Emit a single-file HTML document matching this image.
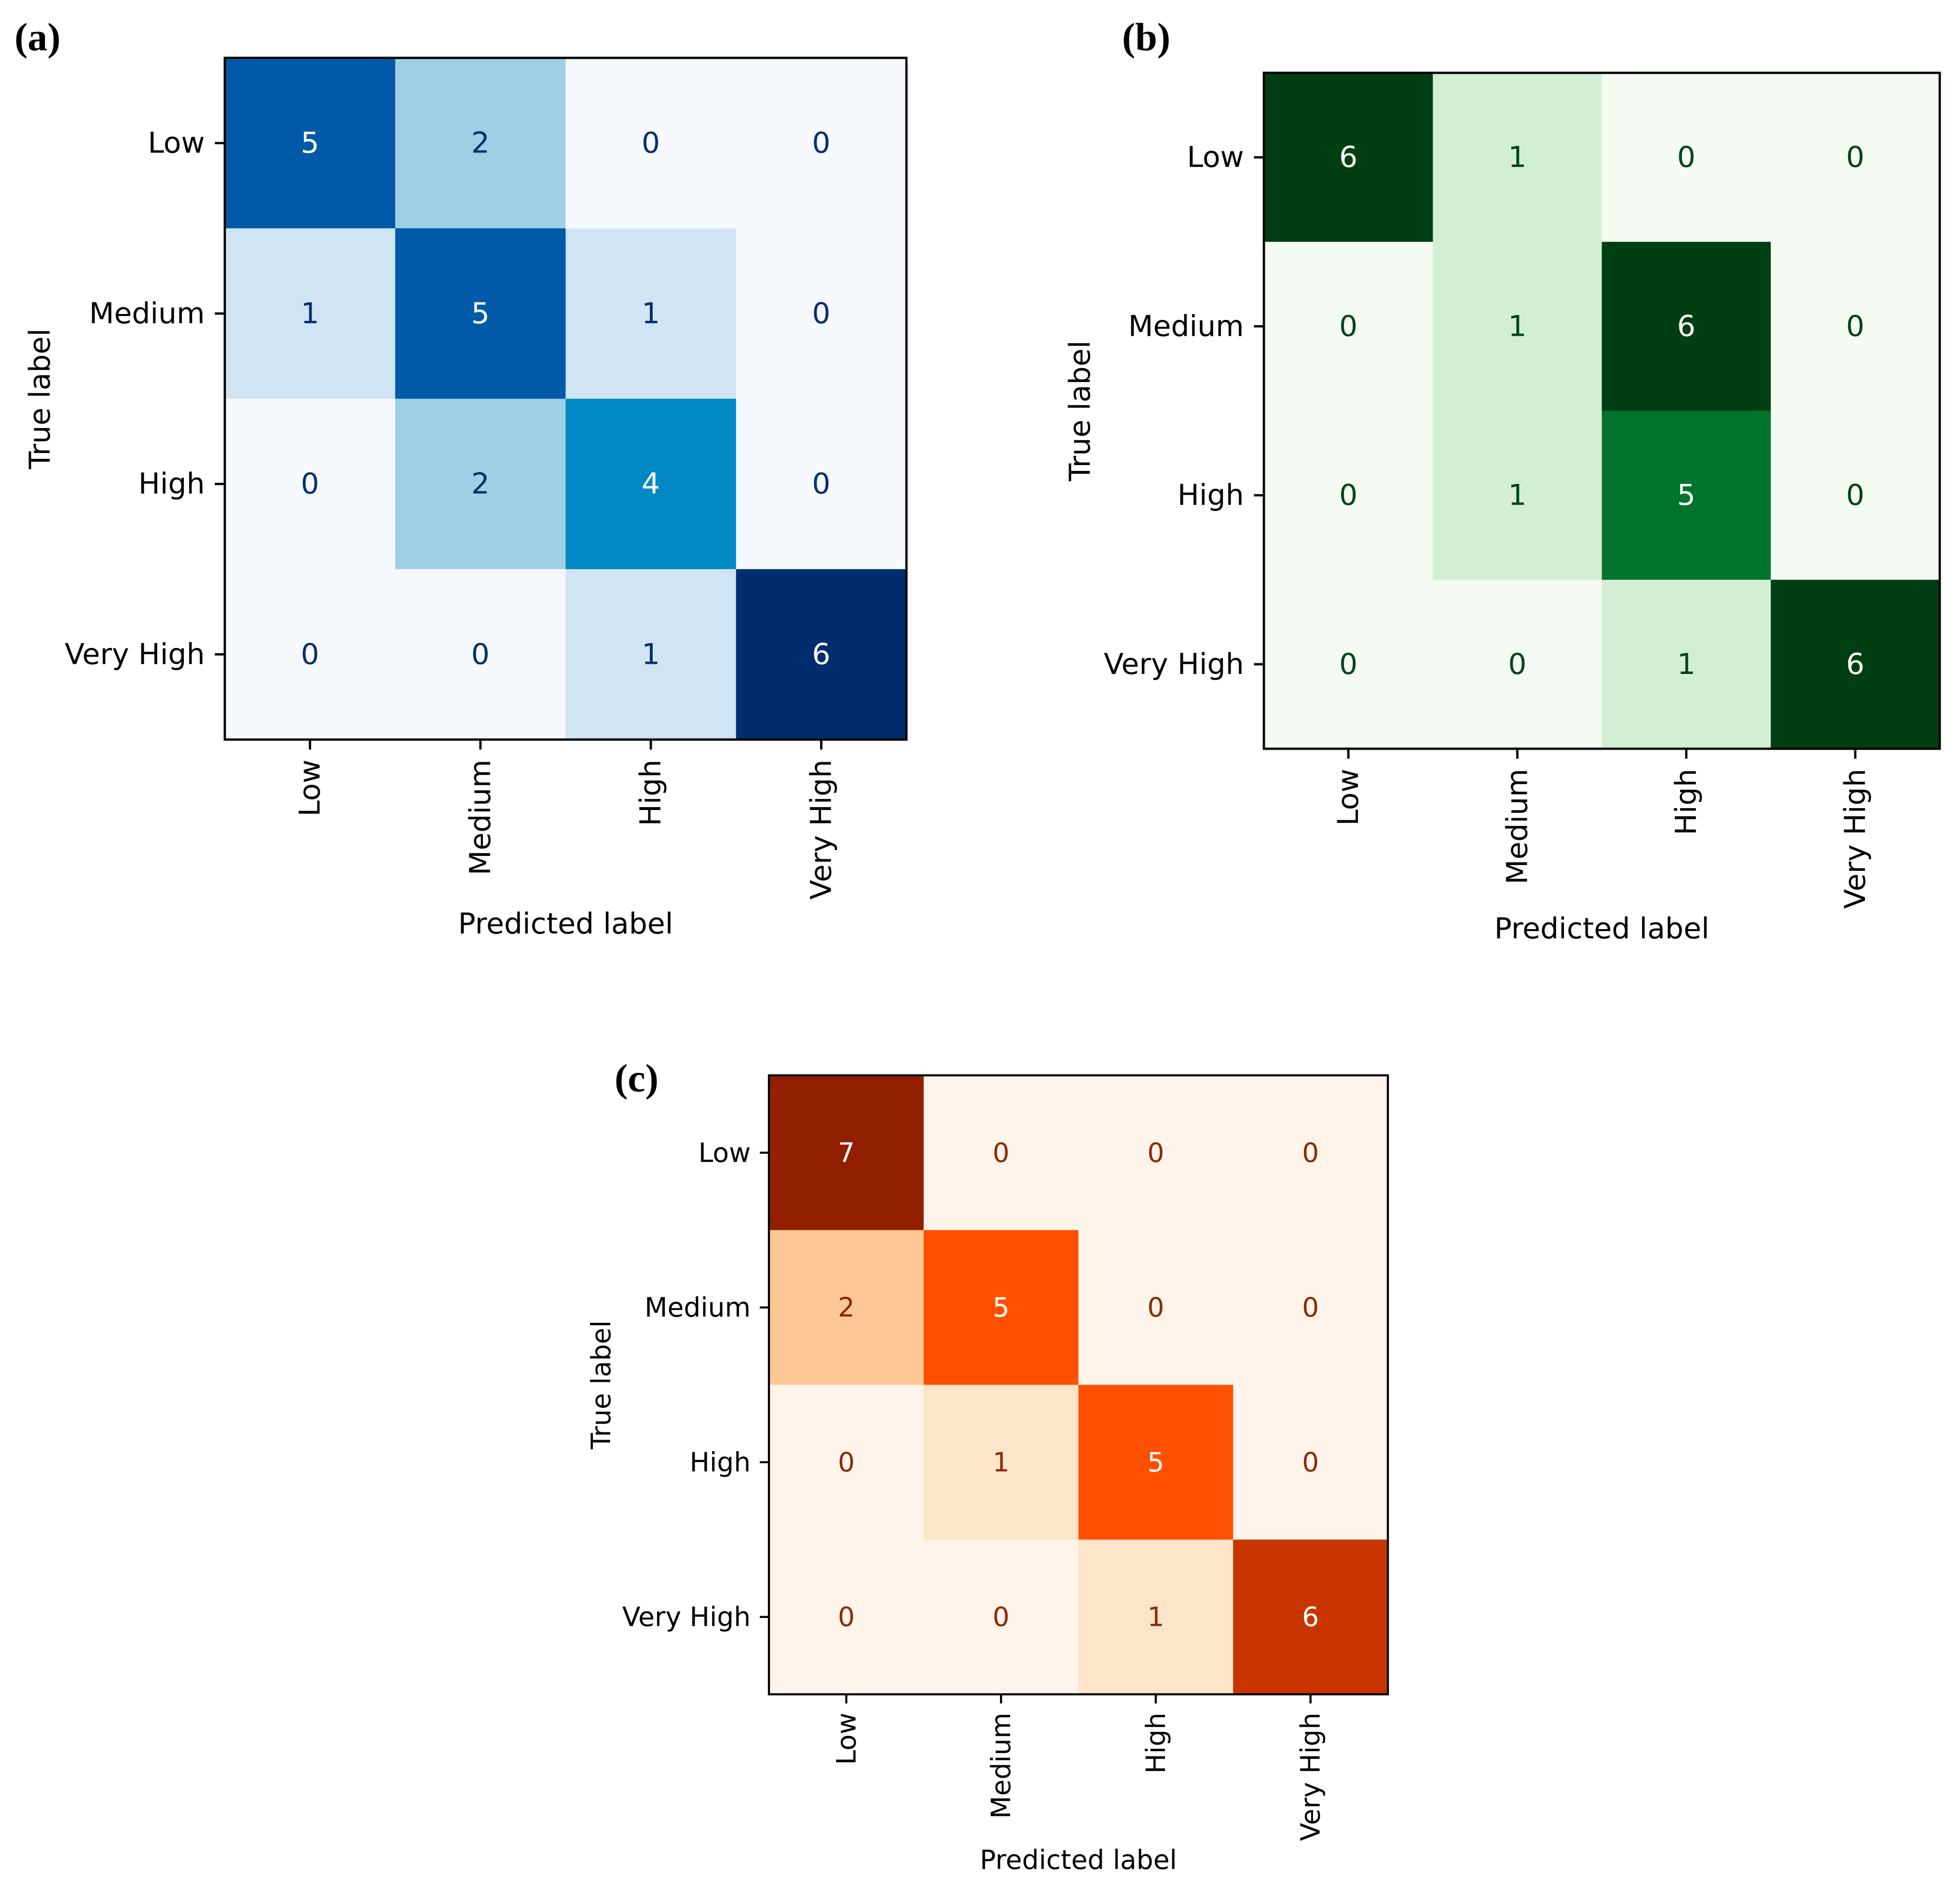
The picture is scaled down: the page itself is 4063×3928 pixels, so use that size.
<!DOCTYPE html>
<html><head><meta charset="utf-8"><style>
html,body{margin:0;padding:0;background:#fff;}
svg{display:block;}
</style></head><body>
<svg id="fig" width="4063" height="3928" viewBox="0 0 4063 3928" xmlns="http://www.w3.org/2000/svg"></svg>
<script>
const categories = ["Low","Medium","High","Very High"];
const valuesA = [[5,2,0,0],[1,5,1,0],[0,2,4,0],[0,0,1,6]];
const valuesB = [[6,1,0,0],[0,1,6,0],[0,1,5,0],[0,0,1,6]];
const valuesC = [[7,0,0,0],[2,5,0,0],[0,1,5,0],[0,0,1,6]];

const NS="http://www.w3.org/2000/svg";
const svg=document.getElementById('fig');
function mk(tag,attrs,parent){const e=document.createElementNS(NS,tag);for(const k in attrs)e.setAttribute(k,attrs[k]);(parent||svg).appendChild(e);return e;}
function hex(h){return [parseInt(h.slice(1,3),16),parseInt(h.slice(3,5),16),parseInt(h.slice(5,7),16)];}
function interp(stops,t){t=Math.max(0,Math.min(1,t));const n=stops.length-1;const f=t*n;const i=Math.min(n-1,Math.floor(f));const u=f-i;const a=hex(stops[i]),b=hex(stops[i+1]);return 'rgb('+a.map((v,k)=>Math.round(v+(b[k]-v)*u)).join(',')+')';}

const blues=["#f5f9fe","#d0e4f3","#9dd0e4","#5fb0d8","#0089c4","#005aa8","#002d6e"];
const greens=["#f4fbf2","#d2efd4","#a6dba8","#62ba70","#2a9246","#00732c","#003f13"];
const oranges=["#fff4e9","#fee4c8","#fdc895","#fda55f","#fd7a2a","#ff4f00","#c93500","#922000"];

function drawMatrix(cfg){
  const {vals,x0,y0,size,fs,stops,darkText,label,lx,ly,titleX,xTitleY,name}=cfg;
  const g=mk('g',{});  
  const n=categories.length, cw=size/n;
  let vmax=-Infinity,vmin=Infinity; vals.forEach(r=>r.forEach(v=>{vmax=Math.max(vmax,v);vmin=Math.min(vmin,v);}));
  const xs=j=>x0+cw*(j+0.5), ys=i=>y0+cw*(i+0.5);
  const thr=(vmax+vmin)/2;
  const sc=fs/58, lw=4.6*sc, tl=20*sc, pad=20*sc;
  vals.forEach((row,i)=>row.forEach((v,j)=>{
    const r=mk('rect',{x:xs(j)-cw/2,y:ys(i)-cw/2,width:cw+0.5,height:cw+0.5,fill:interp(stops,(v-0)/(vmax-0))},g);
    
    
    const t=mk('text',{x:xs(j),y:ys(i),'text-anchor':'middle','dominant-baseline':'central','font-size':fs,'font-family':'DejaVu Sans, Liberation Sans, sans-serif',fill:v>thr?'#ffffff':darkText},g);
    t.textContent=v;
    
    
  }));
  const fr=mk('rect',{x:x0,y:y0,width:size,height:size,fill:'none',stroke:'#000','stroke-width':lw},g);
  
  
  categories.forEach((c,k)=>{
    mk('line',{x1:x0,x2:x0-tl,y1:ys(k),y2:ys(k),stroke:'#000','stroke-width':lw},g);
    const yt=mk('text',{x:x0-tl-pad,y:ys(k),'text-anchor':'end','dominant-baseline':'central','font-size':fs,'font-family':'DejaVu Sans, Liberation Sans, sans-serif',fill:'#000'},g);
    yt.textContent=c;
    
    
    mk('line',{x1:xs(k),x2:xs(k),y1:y0+size,y2:y0+size+tl,stroke:'#000','stroke-width':lw},g);
    const tx=xs(k), ty=y0+size+tl+pad;
    const xt=mk('text',{x:tx,y:ty,'text-anchor':'end','dominant-baseline':'central','font-size':fs,'font-family':'DejaVu Sans, Liberation Sans, sans-serif',fill:'#000',transform:'rotate(-90 '+tx+' '+ty+')'},g);
    xt.textContent=c;
    
    
  });
  const cy=y0+size/2;
  const yl=mk('text',{x:titleX,y:cy,'text-anchor':'middle','dominant-baseline':'central','font-size':fs,'font-family':'DejaVu Sans, Liberation Sans, sans-serif',fill:'#000',transform:'rotate(-90 '+titleX+' '+cy+')'},g);
  yl.textContent='True label';
  
  
  const xl=mk('text',{x:x0+size/2,y:xTitleY,'text-anchor':'middle','dominant-baseline':'central','font-size':fs,'font-family':'DejaVu Sans, Liberation Sans, sans-serif',fill:'#000'},g);
  xl.textContent='Predicted label';
  
  
  const pl=mk('text',{x:lx,y:ly,'font-size':82,'font-weight':'bold','font-family':'Liberation Serif, serif',fill:'#000'},g);
  pl.textContent=label;
  
  
}

drawMatrix({name:'matrix-a',vals:valuesA,x0:466,y0:120,size:1413,fs:60,stops:blues,darkText:'#08306b',label:'(a)',lx:30,ly:104,titleX:83,xTitleY:1915});
drawMatrix({name:'matrix-b',vals:valuesB,x0:2620,y0:151,size:1401,fs:60,stops:greens,darkText:'#00441b',label:'(b)',lx:2326,ly:104,titleX:2239,xTitleY:1925});
drawMatrix({name:'matrix-c',vals:valuesC,x0:1594,y0:2229,size:1283,fs:55,stops:oranges,darkText:'#8a2a04',label:'(c)',lx:1274,ly:2262,titleX:1246,xTitleY:3855});
</script>
</body></html>
